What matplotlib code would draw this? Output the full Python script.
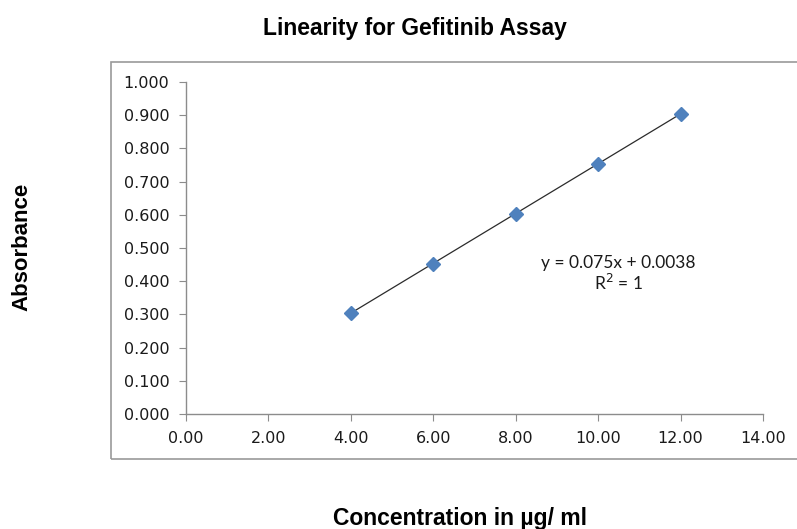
import numpy as np
import matplotlib.pyplot as plt
from matplotlib.patches import Rectangle

# Concentration (µg/ml) vs absorbance
conc = [4.0, 6.0, 8.0, 10.0, 12.0]
absorbance = [0.303, 0.453, 0.603, 0.754, 0.904]
slope = 0.075
intercept = 0.0038

xticks = [0, 2, 4, 6, 8, 10, 12, 14]
yticks = [0.0, 0.1, 0.2, 0.3, 0.4, 0.5, 0.6, 0.7, 0.8, 0.9, 1.0]

fig = plt.figure(figsize=(7.97, 5.29), dpi=100)

# chart area border
fig.patches.append(Rectangle((0.139, 0.132), 0.87, 0.751, transform=fig.transFigure,
                             fill=False, edgecolor='#9a9a9a', linewidth=1.2))

ax = fig.add_axes([0.2334, 0.2174, 0.7239, 0.6276])

# trendline
xs = np.array([conc[0], conc[-1]])
ax.plot(xs, slope * xs + intercept, color='#2b2b2b', linewidth=0.9, zorder=2)
ax.plot(conc, absorbance, linestyle='none', marker='D', markersize=7,
        color='#4F81BD', zorder=3)

ax.set_xlim(0, 14)
ax.set_ylim(0, 1.0)
ax.set_xticks(xticks)
ax.set_yticks(yticks)
ax.set_xticklabels(['%.2f' % t for t in xticks])
ax.set_yticklabels(['%.3f' % t for t in yticks])

for s in ['top', 'right']:
    ax.spines[s].set_visible(False)
for s in ['left', 'bottom']:
    ax.spines[s].set_color('#8c8c8c')
    ax.spines[s].set_linewidth(1.0)
ax.tick_params(direction='out', length=5, color='#8c8c8c', labelsize=11.5,
               labelcolor='#1a1a1a', pad=7)
for lbl in ax.get_xticklabels() + ax.get_yticklabels():
    lbl.set_family('DejaVu Sans')

ax.text(10.49, 0.422, 'y = 0.075x + 0.0038\nR$^2$ = 1', ha='center', va='center',
        fontsize=12.5, family='Lato', linespacing=1.15, color='#1a1a1a')

fig.text(0.521, 0.946, 'Linearity for Gefitinib Assay', ha='center', va='center',
         fontsize=16.5, fontweight='bold', family='Liberation Sans')
fig.text(0.028, 0.534, 'Absorbance', ha='center', va='center', rotation=90,
         fontsize=16, fontweight='bold', family='Liberation Sans')
fig.text(0.577, 0.02, 'Concentration in µg/ ml', ha='center', va='center',
         fontsize=16.5, fontweight='bold', family='Liberation Sans')

fig.savefig('out.png', dpi=100)
